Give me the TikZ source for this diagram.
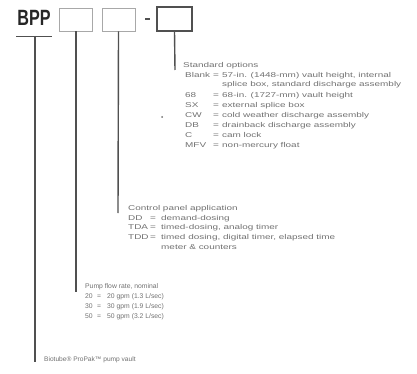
\documentclass[tikz,border=0pt]{standalone}
\usepackage{fontspec}
\setmainfont{Liberation Sans}
\newfontfamily\widefont[FakeStretch=1.42]{Liberation Sans}
\newfontfamily\midfont[FakeStretch=1.0]{Liberation Sans}
\definecolor{txt}{HTML}{707070}
\definecolor{ln}{HTML}{505050}
\definecolor{lbox}{HTML}{A8A8A8}
\newcommand\optrow[5]{\makebox[#1][l]{#3}\makebox[#2][l]{#4}#5}
\begin{document}
\begin{tikzpicture}[x=1pt,y=-1pt,
  lbl/.style={anchor=north west, inner sep=0pt, text=txt, align=left},
  stem/.style={draw=ln, line width=1.4pt},
  codebox/.style={draw=#1, minimum width=33pt, minimum height=23pt, inner sep=0pt}]
\useasboundingbox (0,0) rectangle (417,374);
% code
\node[anchor=center, inner sep=0pt, text=black!85] (bpp) at (34,18) {\scalebox{0.95}[1.3]{\fontsize{17}{17}\selectfont\bfseries BPP}};
\node[codebox=lbox, line width=0.6pt] (b1) at (76,19.5) {};
\node[codebox=lbox, line width=0.6pt] (b2) at (118.5,19.5) {};
\node[inner sep=0pt, minimum width=5pt, minimum height=2.5pt, fill=ln] (dash) at (147.5,19) {};
\node[codebox=ln, line width=1.2pt, minimum width=35pt, minimum height=24pt] (b3) at (174.5,19) {};
\coordinate (ul) at (16,36);
\coordinate (ur) at (52,36);
\draw[draw=ln, line width=0.8pt] (ul) -- (ur);
% text blocks
\node[lbl, font=\widefont\fontsize{7}{10}\selectfont] (opt) at (183,62) {Standard options\\
\hspace*{2pt}\optrow{28pt}{9pt}{Blank}{=}{57-in. (1448-mm) vault height, internal}\\[-1pt]
\hspace*{2pt}\optrow{28pt}{9pt}{}{}{splice box, standard discharge assembly}\\[1pt]
\hspace*{2pt}\optrow{28pt}{9pt}{68}{=}{68-in. (1727-mm) vault height}\\
\hspace*{2pt}\optrow{28pt}{9pt}{SX}{=}{external splice box}\\
\hspace*{2pt}\optrow{28pt}{9pt}{CW}{=}{cold weather discharge assembly}\\
\hspace*{2pt}\optrow{28pt}{9pt}{DB}{=}{drainback discharge assembly}\\
\hspace*{2pt}\optrow{28pt}{9pt}{C}{=}{cam lock}\\
\hspace*{2pt}\optrow{28pt}{9pt}{MFV}{=}{non-mercury float}};
\node[circle, fill=txt, inner sep=0pt, minimum size=2pt] (dot) at (162,117) {};
\node[lbl, font=\widefont\fontsize{7}{9.8}\selectfont] (ctrl) at (128,205) {Control panel application\\
\optrow{22pt}{11pt}{DD}{=}{demand-dosing}\\
\optrow{22pt}{11pt}{TDA}{=}{timed-dosing, analog timer}\\
\optrow{22pt}{11pt}{TDD}{=}{timed dosing, digital timer, elapsed time}\\
\optrow{22pt}{11pt}{}{}{meter \& counters}};
\node[lbl, font=\midfont\fontsize{6.8}{10}\selectfont] (pump) at (85,283.5) {Pump flow rate, nominal\\
\optrow{12pt}{10pt}{20}{=}{20 gpm (1.3 L/sec)}\\
\optrow{12pt}{10pt}{30}{=}{30 gpm (1.9 L/sec)}\\
\optrow{12pt}{10pt}{50}{=}{50 gpm (3.2 L/sec)}};
\node[lbl, font=\midfont\fontsize{6.6}{10}\selectfont] (vault) at (44,356.5) {Biotube\textregistered{} ProPak\texttrademark{} pump vault};
% stems
\coordinate (e0) at (35,362);
\coordinate (e1) at (76,292);
\coordinate (e2) at (118,213);
\coordinate (e3) at (175,70);
\draw[stem] (35,36) -- (e0);
\draw[stem] (b1.south) -- (e1);
\draw[stem] (b2.south) -- (e2);
\draw[stem] (b3.south) -- (e3);
\end{tikzpicture}
\end{document}
